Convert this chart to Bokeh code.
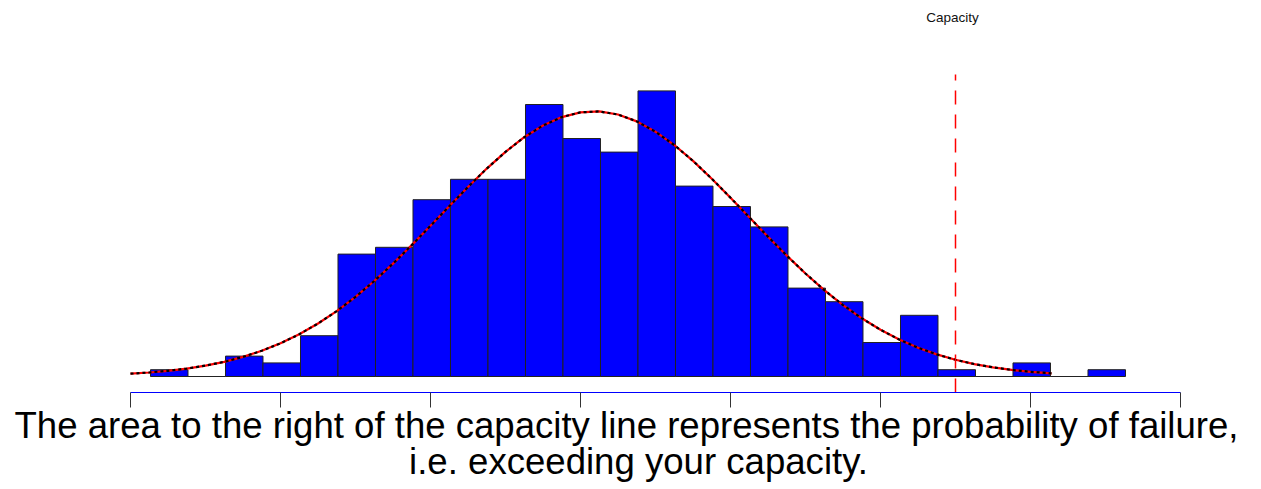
from bokeh.plotting import figure
from bokeh.models import LinearAxis, FixedTicker, Range1d, Label
from bokeh.embed import file_html
from bokeh.resources import INLINE

# ---- data ----
bin_start = 0.1333
bin_width = 0.25
counts = [1, 0, 3, 2, 6, 18, 19, 26, 29, 29, 40, 35, 33, 42, 28, 25, 22, 13, 11, 5, 9, 1, 0, 2, 0, 1]

curve_x = [0.0, 0.125, 0.25, 0.375, 0.5, 0.625, 0.75, 0.875, 1.0, 1.125, 1.25, 1.375, 1.5, 1.625,
           1.75, 1.875, 2.0, 2.125, 2.25, 2.375, 2.5, 2.625, 2.75, 2.875, 3.0, 3.125, 3.25, 3.375,
           3.5, 3.625, 3.75, 3.875, 4.0, 4.125, 4.25, 4.375, 4.5, 4.625, 4.75, 4.875, 5.0, 5.125,
           5.25, 5.375, 5.5, 5.625, 5.75, 5.875, 6.0, 6.14]
curve_y = [0.41, 0.59, 0.84, 1.17, 1.60, 2.16, 2.88, 3.78, 4.88, 6.21, 7.79, 9.62, 11.71, 14.04,
           16.60, 19.32, 22.16, 25.04, 27.87, 30.58, 33.04, 35.19, 36.91, 38.15, 38.85, 38.98, 38.53, 37.52,
           36.00, 34.04, 31.71, 29.09, 26.30, 23.42, 20.56, 17.78, 15.14, 12.71, 10.51, 8.56, 6.87, 5.43,
           4.23, 3.25, 2.46, 1.83, 1.35, 0.97, 0.69, 0.47]

capacity = 5.5
capacity_label = "Capacity"
tick_values = [0, 1, 2, 3, 4, 5, 6, 7]
caption_1 = "The area to the right of the capacity line represents the probability of failure,"
caption_2 = "i.e. exceeding your capacity."

# ---- layout constants (pixels) ----
W, H = 1245, 485
px_per_x = 150.0
px_per_y = 6.8
x0_px = 130       # pixel of x = 0
base_px = 376     # pixel of y = 0 (bar baseline)
axis_px = 392     # pixel row of the axis line
text_shift = 12   # correction for label baseline placement

def ydata(py):
    return (base_px - py) / px_per_y

x_start = -x0_px / px_per_x
x_end = (W - x0_px) / px_per_x
y_start = ydata(H)
y_end = ydata(0)
axis_y = ydata(axis_px)

p = figure(width=W, height=H, output_backend="svg", toolbar_location=None,
           x_range=Range1d(x_start, x_end), y_range=Range1d(y_start, y_end),
           x_axis_type=None, y_axis_type=None,
           min_border_left=0, min_border_right=0, min_border_top=0, min_border_bottom=0)
p.outline_line_color = None
p.xgrid.visible = False
p.ygrid.visible = False
p.background_fill_color = "white"
p.border_fill_color = "white"

left = [bin_start + i * bin_width for i in range(len(counts))]
right = [l + bin_width for l in left]
p.quad(left=left, right=right, bottom=0, top=counts,
       fill_color="#0000FF", line_color="#222222", line_width=1)

p.line(curve_x, curve_y, line_color="#FF0000", line_width=2.2)
p.line(curve_x, curve_y, line_color="black", line_width=2.2, line_dash="3 3")

cap_top = ydata(74)
p.segment(x0=[capacity], y0=[axis_y], x1=[capacity], y1=[cap_top],
          line_color="#FF0000", line_width=1.5, line_dash="14 10")

axis = LinearAxis(ticker=FixedTicker(ticks=tick_values), bounds=(0, 7), fixed_location=axis_y)
axis.axis_line_color = "blue"
axis.axis_line_width = 1.2
axis.major_tick_line_color = "#333333"
axis.major_tick_out = 15
axis.major_tick_in = 0
axis.minor_tick_line_color = None
axis.major_label_overrides = {t: "" for t in tick_values}
axis.major_label_text_font_size = "0px"
axis.major_label_standoff = 0
p.add_layout(axis, "below")

p.add_layout(Label(x=capacity, y=ydata(17), x_offset=-3, text=capacity_label,
                   text_font="Liberation Sans", text_font_size="13.5px",
                   text_align="center", text_baseline="middle", text_color="#111111"))

p.add_layout(Label(x=(626 - x0_px) / px_per_x, y=ydata(437 - text_shift), text=caption_1,
                   text_font="Liberation Sans", text_font_size="36.6px",
                   text_align="center", text_baseline="alphabetic", text_color="black"))
p.add_layout(Label(x=(638 - x0_px) / px_per_x, y=ydata(473 - text_shift), text=caption_2,
                   text_font="Liberation Sans", text_font_size="36.6px",
                   text_align="center", text_baseline="alphabetic", text_color="black"))

open("out.html", "w").write(file_html(p, INLINE))
